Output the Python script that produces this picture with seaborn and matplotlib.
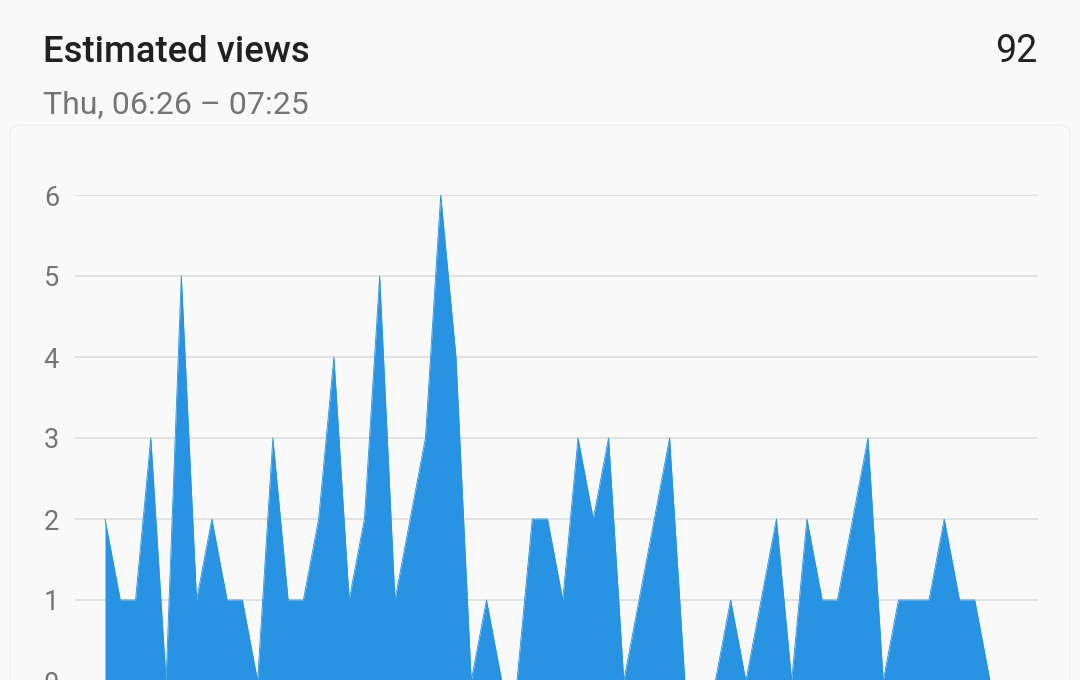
import matplotlib.pyplot as plt
import seaborn as sns
import pandas as pd
from matplotlib.patches import FancyBboxPatch

# views per minute, Thu 06:26 .. 07:25
views = [2, 1, 1, 3, 0, 5, 1, 2, 1, 1,
         0, 3, 1, 1, 2, 4, 1, 2, 5, 1,
         2, 3, 6, 4, 0, 1, 0, 0, 2, 2,
         1, 3, 2, 3, 0, 1, 2, 3, 0, 0,
         0, 1, 0, 1, 2, 0, 2, 1, 1, 2,
         3, 0, 1, 1, 1, 2, 1, 1, 0, 0]
minutes = list(range(len(views)))
y_ticks = [0, 1, 2, 3, 4, 5, 6]

title = 'Estimated views'
subtitle = 'Thu, 06:26 \u2013 07:25'
total = '92'

bg = '#f9f9f9'
blue = '#2892e3'
grey_text = '#757575'
dark_text = '#212121'

sns.set_style('white')
plt.rcParams['font.family'] = ['Roboto', 'DejaVu Sans']

df = pd.DataFrame({'minute': minutes, 'views': views})

W, H = 1080, 680
fig = plt.figure(figsize=(W / 100, H / 100), dpi=100)
fig.patch.set_facecolor(bg)

# faint card outline behind the plot
card = FancyBboxPatch((10 / W, -0.2), 1060 / W, (H - 125) / H + 0.2,
                      boxstyle='round,pad=0,rounding_size=0.012',
                      transform=fig.transFigure, facecolor='none',
                      edgecolor='#f1f1f1', linewidth=1.2, zorder=0)
fig.patches.append(card)

# axes: value 6 at y=195px, value 0 at y=681px, x from 75px to 1038px
ax = fig.add_axes([75 / W, -1 / H, (1038 - 75) / W, 486 / H])
ax.set_zorder(2)
ax.set_facecolor('none')

sns.lineplot(data=df, x='minute', y='views', ax=ax, color=blue,
             linewidth=0.6, zorder=3)
ax.fill_between(df['minute'], 0, df['views'], color=blue, linewidth=0, zorder=3)

step = (990 - 105) / 58
ax.set_xlim(-(105 - 75) / step, (1038 - 105) / step)
ax.set_ylim(0, 6)
ax.set_yticks(y_ticks)
ax.set_xticks([])
ax.set_xlabel('')
ax.set_ylabel('')
ax.yaxis.grid(True, color='#e0e0e0', linewidth=1.3, zorder=1)
ax.set_axisbelow(True)
ax.tick_params(axis='y', length=0, pad=11.5, labelsize=19.5, labelcolor=grey_text)
sns.despine(ax=ax, left=True, bottom=True)

fig.text(43 / W, 1 - 62 / H, title, fontsize=26.3, fontweight='medium',
         color=dark_text, ha='left', va='baseline')
fig.text(43 / W, 1 - 113 / H, subtitle, fontsize=23,
         color=grey_text, ha='left', va='baseline')
fig.text(1037 / W, 1 - 62 / H, total, fontsize=27,
         color=dark_text, ha='right', va='baseline')

fig.savefig('out.png', dpi=100, facecolor=bg)
